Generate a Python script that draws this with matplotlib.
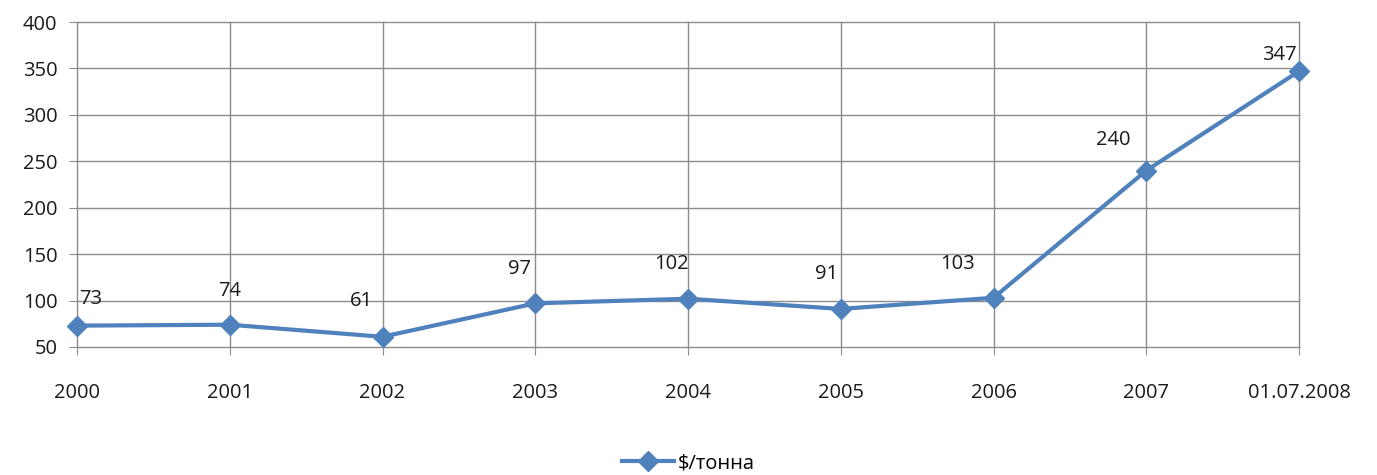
import matplotlib.pyplot as plt
from matplotlib.lines import Line2D

categories = ["2000", "2001", "2002", "2003", "2004", "2005", "2006", "2007", "01.07.2008"]
prices = [73, 74, 61, 97, 102, 91, 103, 240, 347]
y_ticks = [50, 100, 150, 200, 250, 300, 350, 400]
series_name = "$/тонна"

# label offsets in points (dx, dy), mimicking Excel's placement
label_offsets = [(10, 19), (0, 24), (-15, 26), (-11, 25), (-12, 25), (-10, 25), (-26, 24), (-24, 22), (-14, 12)]

BLUE = "#4F81BD"
GRID = "#8C8C8C"

plt.rcParams["font.family"] = ["Open Sans", "DejaVu Sans"]

fig = plt.figure(figsize=(13.77, 4.75), dpi=100)
ax = fig.add_axes([77 / 1377, 1 - 347 / 475, (1299 - 77) / 1377, (347 - 22) / 475])

x = list(range(len(categories)))
ax.plot(x, prices, color=BLUE, linewidth=3, marker="D", markersize=10, clip_on=False, zorder=3)

for xi, v, (dx, dy) in zip(x, prices, label_offsets):
    ax.annotate(str(v), (xi, v), xytext=(dx, dy), textcoords="offset points",
                ha="center", va="center", fontsize=14.5, color="#1a1a1a")

ax.set_xlim(0, len(categories) - 1)
ax.set_ylim(50, 400)
ax.set_yticks(y_ticks)
ax.set_xticks(x)
ax.set_xticklabels(categories)
ax.grid(True, color=GRID, linewidth=1)
for gl in ax.get_xgridlines() + ax.get_ygridlines():
    gl.set_clip_on(False)
for s in ax.spines.values():
    s.set_visible(False)
ax.tick_params(axis="both", length=6, color=GRID, labelsize=14.5, labelcolor="#1a1a1a")
ax.tick_params(axis="x", pad=20)
ax.tick_params(axis="y", pad=8)

handle = Line2D([], [], color=BLUE, linewidth=3, marker="D", markersize=10)
fig.legend([handle], [series_name], loc="center", bbox_to_anchor=(0.5, 1 - 463 / 475),
           frameon=False, fontsize=14.5, handlelength=2.6, handletextpad=0.2)

fig.savefig("out.png", dpi=100)
